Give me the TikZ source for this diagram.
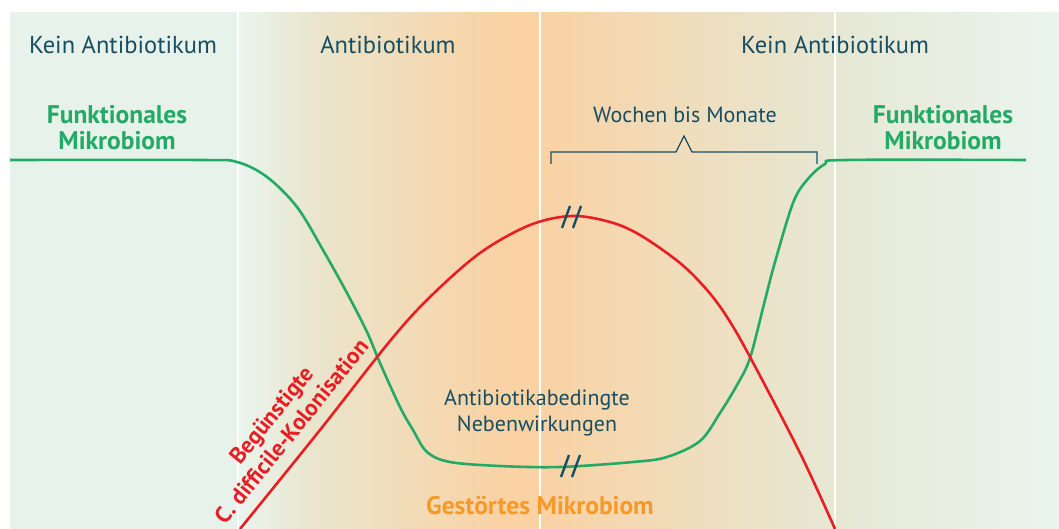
\documentclass[tikz,border=0pt]{standalone}
\usepackage{fontspec}
\setmainfont{PT Sans}
\usetikzlibrary{calc}
\definecolor{cTeal}{RGB}{24,78,98}
\definecolor{cGreen}{RGB}{34,170,102}
\definecolor{cRed}{RGB}{232,30,36}
\definecolor{cOrange}{RGB}{245,154,42}
\definecolor{cBgGreen}{RGB}{230,242,234}
\definecolor{cBgMint}{RGB}{234,245,239}
\definecolor{cBgBeige}{RGB}{233,230,205}
\definecolor{cBgOrange}{RGB}{250,210,164}
\definecolor{cBgSand}{RGB}{230,232,212}

\begin{document}
\begin{tikzpicture}[x=1pt, y=-1pt,
    hdr/.style={text=cTeal, font=\fontsize{24.5}{28}\selectfont},
    state/.style={text=cGreen, font=\bfseries\fontsize{25.5}{26}\selectfont, align=center},
    note/.style={text=cTeal, font=\fontsize{22}{26}\selectfont, align=center},
    curve/.style={line width=2.6pt, line join=round},
    brk/.style={draw=cTeal, line width=2.4pt},
    sep/.style={draw=white, line width=2.4pt}]
    \useasboundingbox (0,0) rectangle (1059,529);
    \fill[cBgGreen] (10,12) rectangle (238,529);
    \shade[left color=cBgMint, right color=cBgBeige] (238,12) rectangle (310,529);
    \shade[left color=cBgBeige, right color=cBgOrange] (310,12) rectangle (505,529);
    \fill[cBgOrange] (504,12) rectangle (541,529);
    \shade[left color=cBgOrange, right color=cBgSand] (540,12) rectangle (835,529);
    \shade[left color=cBgSand, right color=cBgMint] (835,12) rectangle (1059,529);
    \fill[white] (0,0) rectangle (1059,12) (0,0) rectangle (10,529);
    \draw[sep] (238,12) -- (238,529) (540,12) -- (540,529) (835,12) -- (835,529);
    \node[hdr] (hdrL) at (123,45) {Kein Antibiotikum};
    \node[hdr] (hdrM) at (388,45) {Antibiotikum};
    \node[hdr] (hdrR) at (835,45) {Kein Antibiotikum};
    \node[state] (funkL) at (117,128) {Funktionales\\Mikrobiom};
    \node[state] (funkR) at (943,128) {Funktionales\\Mikrobiom};
    \node[note] (wochen) at (685,115) {Wochen bis Monate};
    \draw[cTeal, line width=1.2pt] (551,164) -- (551,152) -- (676,152) -- (684,136) -- (692,152) -- (817,152) -- (817,164);
    \draw[curve, cGreen] plot[smooth, tension=0.55] coordinates {(10,160) (200,160) (237,162) (267,177) (297,207) (323,250) (347,293) (367,332) (380,363) (400,407) (413,430) (427,452) (450,462) (500,466) (560,467) (633,462) (667,457) (700,441) (720,413) (737,385) (750,358) (765,300) (775,262) (793,203) (807,180) (825,164) (845,160) (1026,160)};
    \draw[curve, cRed] plot[smooth, tension=0.55] coordinates {(240,529) (320,430) (390,341) (430,297) (480,253) (530,225) (572,216) (610,222) (640,235) (680,263) (707,290) (727,317) (750,357) (800,453) (835,529)};
    \coordinate (brkR) at (572,217);
    \coordinate (brkG) at (571,466);
    \draw[brk] ($(brkR)+(-10,11)$) -- ++(8,-22) ($(brkR)+(1,11)$) -- ++(8,-22);
    \draw[brk] ($(brkG)+(-10,11)$) -- ++(8,-22) ($(brkG)+(1,11)$) -- ++(8,-22);
    \node[note] (neben) at (537,413) {Antibiotikabedingte\\Nebenwirkungen};
    \node[state, text=cOrange] (gestoert) at (540,505) {Gestörtes Mikrobiom};
    \node[state, text=cRed, rotate=51, font=\bfseries\fontsize{23}{26}\selectfont] (kolon) at (281,423) {Begünstigte\\C. difficile-Kolonisation};
\end{tikzpicture}
\end{document}
